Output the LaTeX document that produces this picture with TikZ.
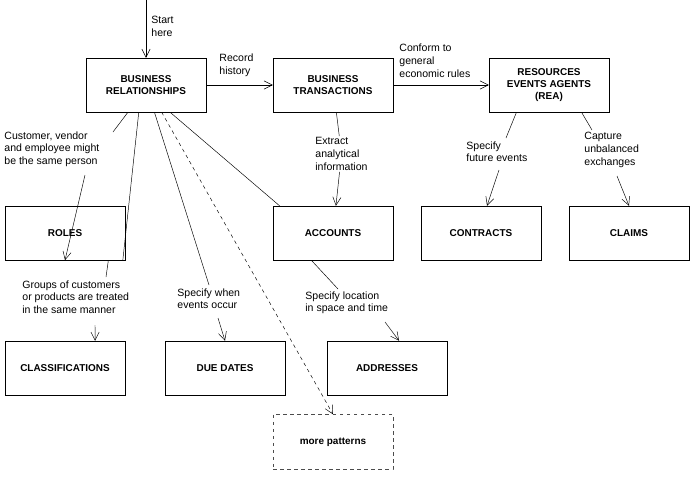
\documentclass[tikz,border=0pt]{standalone}
\usepackage{fontspec}
\setmainfont{Liberation Sans}
\usetikzlibrary{arrows.meta,calc}
\tikzset{
  box/.style={draw,minimum width=120*0.03cm,minimum height=54*0.03cm,align=center,font=\fontsize{8.5}{10}\selectfont\bfseries},
  note/.style={align=left,inner sep=1pt,font=\fontsize{9}{11}\selectfont},
  link/.style={-{Straight Barb[length=7pt,width=7pt]}},
}
\newcommand{\botpt}[2]{($(#1.south west)!#2!(#1.south east)$)}
\begin{document}
\begin{tikzpicture}[x=0.03cm,y=-0.03cm]
\useasboundingbox (0,0) rectangle (692,495);
% boxes
\node[box] (rel) at (146,85) {BUSINESS\\RELATIONSHIPS};
\node[box] (trans) at (333,85) {BUSINESS\\TRANSACTIONS};
\node[box] (rea) at (549,85) {RESOURCES\\EVENTS AGENTS\\(REA)};
\node[box] (roles) at (65,233) {ROLES};
\node[box] (acc) at (333,233) {ACCOUNTS};
\node[box] (contr) at (481,233) {CONTRACTS};
\node[box] (claims) at (629,233) {CLAIMS};
\node[box] (class) at (65,368) {CLASSIFICATIONS};
\node[box] (due) at (225,368) {DUE DATES};
\node[box] (addr) at (387,368) {ADDRESSES};
\node[box,dashed,draw=black!70,minimum height=55*0.03cm] (more) at (333,442) {more patterns};
% notes
\coordinate (start) at (146,0);
\node[note,anchor=north west] (lStart) at (150,15) {Start\\here};
\node[note,anchor=south west] (lRec) at (218,78) {Record\\history};
\node[note,anchor=south west] (lConf) at (398,79) {Conform to\\general\\economic rules};
\node[note,anchor=north west] (lCust) at (3,130) {Customer, vendor\\and employee might\\be the same person};
\node[note,anchor=north west] (lGroup) at (21,279) {Groups of customers\\or products are treated\\in the same manner};
\node[note,anchor=north west] (lWhen) at (176,287) {Specify when\\events occur};
\node[note,anchor=north west] (lExtr) at (314,136) {Extract\\analytical\\information};
\node[note,anchor=north west] (lLoc) at (304,290) {Specify location\\in space and time};
\node[note,anchor=north west] (lFut) at (465,140) {Specify\\future events};
\node[note,anchor=north west] (lCap) at (583,131) {Capture\\unbalanced\\exchanges};
% connectors
\draw[link] (start) -- (rel);
\draw[link] (rel) -- (trans);
\draw[link] (trans) -- (rea);
\draw \botpt{rel}{.35} -- (113,132);
\draw[link] (85,175) -- \botpt{roles}{.5};
\draw \botpt{rel}{.44} -- \botpt{roles}{.98};
\draw \botpt{rel}{.57} -- (209,285);
\draw[link] (218,318) -- ($(due.north west)!.5!(due.north east)$);
\draw[dashed,link] \botpt{rel}{.63} -- ($(more.north west)!.5!(more.north east)$);
\draw \botpt{rel}{.7} -- (acc.153);
\draw \botpt{roles}{.86} -- (106,277);
\draw[link] (95,325) -- ($(class.north west)!.75!(class.north east)$);
\draw (trans) -- (lExtr);
\draw[link] (lExtr) -- (acc);
\draw \botpt{acc}{.32} -- (338,289);
\draw[link] (385,322) -- ($(addr.north west)!.6!(addr.north east)$);
\draw \botpt{rea}{.23} -- (506,138);
\draw[link] (499,170) -- ($(contr.north west)!.55!(contr.north east)$);
\draw \botpt{rea}{.77} -- (592,130);
\draw[link] (617,176) -- ($(claims.north west)!.5!(claims.north east)$);
\end{tikzpicture}
\end{document}
